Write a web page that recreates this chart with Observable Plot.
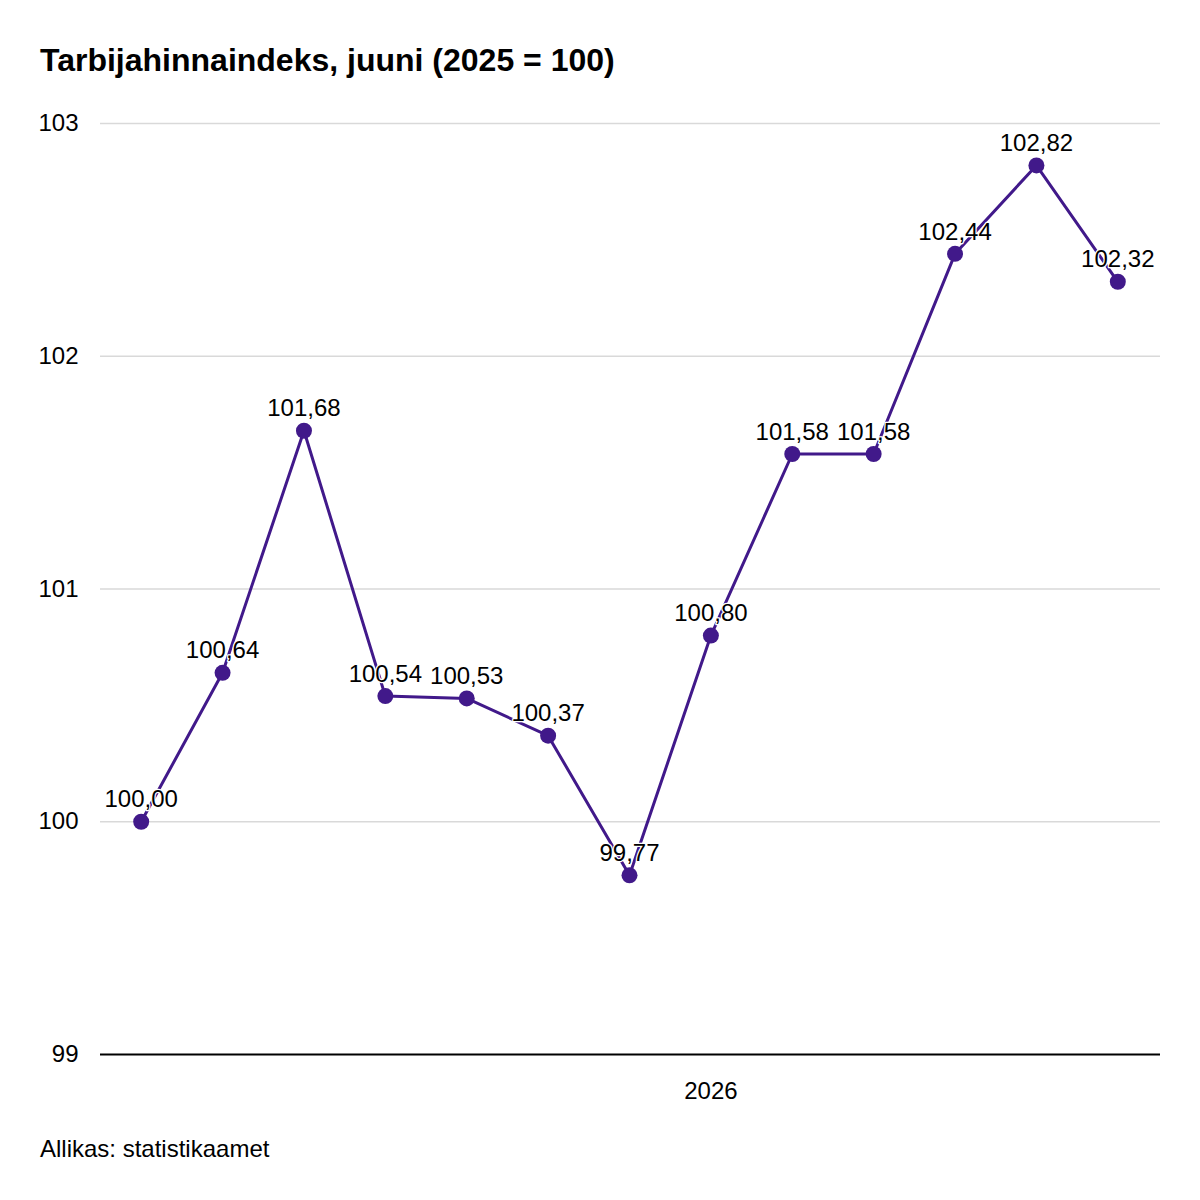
<!DOCTYPE html>
<html>
<head>
<meta charset="utf-8">
<script src="https://cdn.jsdelivr.net/npm/d3@7"></script>
<script src="https://cdn.jsdelivr.net/npm/@observablehq/plot@0.6"></script>
<style>
  html, body { margin: 0; padding: 0; background: #fff; }
  body { width: 1200px; height: 1200px; position: relative; font-family: "Liberation Sans", Arial, sans-serif; }
  #title { position: absolute; left: 40px; top: 42px; font-size: 32px; font-weight: bold; color: #000; line-height: 36px; white-space: nowrap; }
  #chart { position: absolute; left: 0; top: 90px; }
  #caption { position: absolute; left: 40px; top: 1135px; font-size: 24px; color: #000; line-height: 28px; white-space: nowrap; }
</style>
</head>
<body>
<div id="title">Tarbijahinnaindeks, juuni (2025 = 100)</div>
<div id="chart"></div>
<div id="caption">Allikas: statistikaamet</div>
<script>
const months = ["2025-06","2025-07","2025-08","2025-09","2025-10","2025-11","2025-12","2026-01","2026-02","2026-03","2026-04","2026-05","2026-06"];
const values = [100.00, 100.64, 101.68, 100.54, 100.53, 100.37, 99.77, 100.80, 101.58, 101.58, 102.44, 102.82, 102.32];
const xTickLabels = ["", "", "", "", "", "", "", "2026", "", "", "", "", ""];
const yTicks = [99, 100, 101, 102, 103];

const data = months.map((m, i) => ({month: m, value: values[i]}));
const fmt = v => d3.format(".2f")(v).replace(".", ",");
const color = "#41198a";

const chart = Plot.plot({
  width: 1200,
  height: 1030,
  marginLeft: 100,
  marginRight: 42,
  marginTop: 33,
  marginBottom: 66,
  style: {fontFamily: "Liberation Sans, Arial, sans-serif", fontSize: "24px", color: "#000", background: "#fff", overflow: "visible"},
  x: {type: "point", domain: months, padding: 0.5, round: false},
  y: {domain: [99, 103]},
  marks: [
    Plot.gridY(yTicks.filter(t => t !== 99), {stroke: "#d9d9d9", strokeOpacity: 1, strokeWidth: 1.5, insetRight: -2}),
    Plot.axisY({ticks: yTicks, tickSize: 0, tickPadding: 22, tickFormat: d => String(d), fontSize: 24, label: null}),
    Plot.axisX({tickSize: 0, tickPadding: 27, tickFormat: d => xTickLabels[months.indexOf(d)], fontSize: 24, label: null}),
    Plot.ruleY([99], {stroke: "#000", strokeWidth: 2, insetRight: -2}),
    Plot.line(data, {x: "month", y: "value", stroke: color, strokeWidth: 3}),
    Plot.text(data, {x: "month", y: "value", text: d => fmt(d.value), dy: -22, fontSize: 24, fill: "#000", stroke: "#fff", strokeWidth: 2.5}),
    Plot.dot(data, {x: "month", y: "value", r: 8, fill: color, stroke: "none"})
  ]
});
document.getElementById("chart").appendChild(chart);
</script>
</body>
</html>
